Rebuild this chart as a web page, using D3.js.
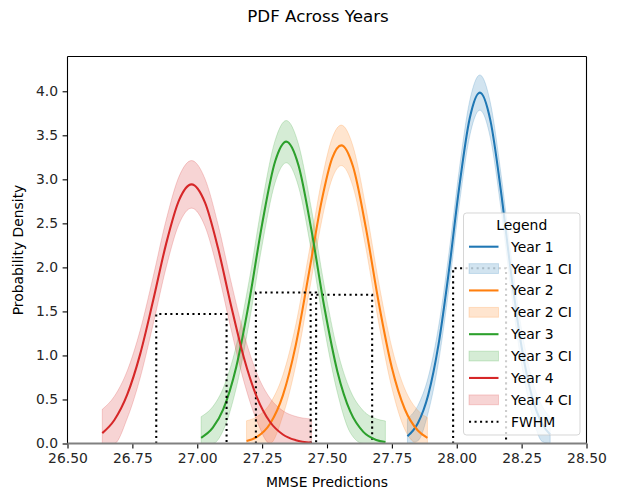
<!DOCTYPE html>
<html>
<head>
<meta charset="utf-8">
<script src="https://cdn.jsdelivr.net/npm/d3@7"></script>
<style>
  html, body { margin: 0; padding: 0; background: #fff; }
  svg { display: block; font-family: "DejaVu Sans", sans-serif; }
</style>
</head>
<body>
<svg id="chart" width="619" height="491"></svg>
<script>
// ---------- data ----------
const seriesNames = ["Year 1", "Year 2", "Year 3", "Year 4"];
const seriesColors = ["#1f77b4", "#ff7f0e", "#2ca02c", "#d62728"];

// Year 1
const year1X  = [27.81, 27.85, 27.89, 27.93, 27.97, 28.01, 28.05, 28.089, 28.13, 28.17, 28.21, 28.25, 28.29, 28.33, 28.36];
const year1Y  = [0.082, 0.230, 0.552, 1.129, 1.965, 2.919, 3.693, 3.985, 3.664, 2.873, 1.919, 1.094, 0.531, 0.220, 0.102];
const year1Hi = [0.282, 0.430, 0.752, 1.329, 2.165, 3.119, 3.893, 4.185, 3.864, 3.073, 2.119, 1.294, 0.731, 0.420, 0.302];
const year1Lo = [0.000, 0.030, 0.352, 0.929, 1.765, 2.719, 3.493, 3.785, 3.464, 2.673, 1.719, 0.894, 0.331, 0.020, 0.000];

// Year 2
const year2X  = [27.19, 27.23, 27.28, 27.33, 27.38, 27.43, 27.48, 27.52, 27.555, 27.60, 27.65, 27.70, 27.75, 27.80, 27.85, 27.887];
const year2Y  = [0.028, 0.075, 0.222, 0.547, 1.123, 1.929, 2.764, 3.240, 3.386, 3.148, 2.446, 1.587, 0.860, 0.389, 0.147, 0.064];
const year2Hi = [0.258, 0.305, 0.452, 0.777, 1.353, 2.159, 2.994, 3.470, 3.616, 3.378, 2.676, 1.817, 1.090, 0.619, 0.377, 0.294];
const year2Lo = [0.000, 0.000, 0.000, 0.317, 0.893, 1.699, 2.534, 3.010, 3.156, 2.918, 2.216, 1.357, 0.630, 0.159, 0.000, 0.000];

// Year 3
const year3X  = [27.015, 27.06, 27.10, 27.15, 27.20, 27.25, 27.30, 27.343, 27.39, 27.44, 27.49, 27.54, 27.59, 27.64, 27.69, 27.725];
const year3Y  = [0.065, 0.179, 0.388, 0.867, 1.611, 2.492, 3.202, 3.428, 3.160, 2.423, 1.544, 0.819, 0.361, 0.132, 0.040, 0.016];
const year3Hi = [0.305, 0.419, 0.628, 1.107, 1.851, 2.732, 3.442, 3.668, 3.400, 2.663, 1.784, 1.059, 0.601, 0.372, 0.280, 0.256];
const year3Lo = [0.000, 0.000, 0.148, 0.627, 1.371, 2.252, 2.962, 3.188, 2.920, 2.183, 1.304, 0.579, 0.121, 0.000, 0.000, 0.000];

// Year 4
const year4X  = [26.634, 26.68, 26.73, 26.78, 26.83, 26.88, 26.93, 26.978, 27.03, 27.08, 27.13, 27.18, 27.23, 27.28, 27.33, 27.38, 27.44];
const year4Y  = [0.118, 0.264, 0.554, 1.015, 1.623, 2.267, 2.764, 2.943, 2.735, 2.219, 1.571, 0.972, 0.525, 0.247, 0.102, 0.037, 0.009];
const year4Hi = [0.388, 0.534, 0.824, 1.285, 1.893, 2.537, 3.034, 3.213, 3.005, 2.489, 1.841, 1.242, 0.795, 0.517, 0.372, 0.307, 0.279];
const year4Lo = [0.000, 0.000, 0.284, 0.745, 1.353, 1.997, 2.494, 2.673, 2.465, 1.949, 1.301, 0.702, 0.255, 0.000, 0.000, 0.000, 0.000];

// FWHM boxes (one per year, same order)
const fwhmLeft   = [27.986, 27.437, 27.226, 26.842];
const fwhmRight  = [28.190, 27.674, 27.458, 27.113];
const fwhmHeight = [1.990, 1.690, 1.714, 1.470];

const xTicks = [26.5, 26.75, 27.0, 27.25, 27.5, 27.75, 28.0, 28.25, 28.5];
const yTicks = [0, 0.5, 1.0, 1.5, 2.0, 2.5, 3.0, 3.5, 4.0];
const xDomain = [26.5, 28.5];
const yDomain = [0, 4.395];

const titleText = "PDF Across Years";
const xLabelText = "MMSE Predictions";
const yLabelText = "Probability Density";
const legendTitle = "Legend";

// ---------- build ----------
const seriesX  = [year1X, year2X, year3X, year4X];
const seriesY  = [year1Y, year2Y, year3Y, year4Y];
const seriesHi = [year1Hi, year2Hi, year3Hi, year4Hi];
const seriesLo = [year1Lo, year2Lo, year3Lo, year4Lo];

const L = 67.5, R = 586.5, T = 56.5, B = 443.5;
const svg = d3.select("#chart");
const x = d3.scaleLinear().domain(xDomain).range([L, R]);
const y = d3.scaleLinear().domain(yDomain).range([B, T]);

svg.append("defs").append("clipPath").attr("id", "plotclip")
  .append("rect").attr("x", L).attr("y", T).attr("width", R - L).attr("height", B - T);

const plot = svg.append("g").attr("clip-path", "url(#plotclip)");
const LW = 2.08;
const DOT = "2.08,3.44";

// bands (below lines)
seriesNames.forEach((name, i) => {
  const pts = seriesX[i].map((xv, j) => ({ x: xv, lo: seriesLo[i][j], hi: seriesHi[i][j] }));
  const area = d3.area().x(d => x(d.x)).y0(d => y(d.lo)).y1(d => y(d.hi)).curve(d3.curveMonotoneX);
  plot.append("path").attr("d", area(pts))
    .attr("fill", seriesColors[i]).attr("fill-opacity", 0.2)
    .attr("stroke", seriesColors[i]).attr("stroke-opacity", 0.2).attr("stroke-width", 1);
});

// lines and FWHM boxes
seriesNames.forEach((name, i) => {
  const pts = seriesX[i].map((xv, j) => ({ x: xv, y: seriesY[i][j] }));
  const line = d3.line().x(d => x(d.x)).y(d => y(d.y)).curve(d3.curveMonotoneX);
  plot.append("path").attr("d", line(pts)).attr("fill", "none")
    .attr("stroke", seriesColors[i]).attr("stroke-width", LW).attr("stroke-linejoin", "round");
  const box = [[fwhmLeft[i], 0], [fwhmLeft[i], fwhmHeight[i]], [fwhmRight[i], fwhmHeight[i]], [fwhmRight[i], 0]];
  plot.append("path").attr("d", d3.line().x(d => x(d[0])).y(d => y(d[1]))(box))
    .attr("fill", "none").attr("stroke", "#000").attr("stroke-width", LW)
    .attr("stroke-dasharray", DOT);
});

// axes
const xAxis = d3.axisBottom(x).tickValues(xTicks).tickFormat(d3.format(".2f")).tickSize(4.9).tickPadding(4.6);
const yAxis = d3.axisLeft(y).tickValues(yTicks).tickFormat(d3.format(".1f")).tickSize(4.9).tickPadding(4.6);
const gx = svg.append("g").attr("transform", `translate(0,${B})`).call(xAxis);
const gy = svg.append("g").attr("transform", `translate(${L},0)`).call(yAxis);
[gx, gy].forEach(g => {
  g.select(".domain").remove();
  g.selectAll(".tick line").attr("stroke", "#000").attr("stroke-width", 1.1);
  g.selectAll(".tick text").attr("fill", "#262626").attr("font-size", "13.9px")
    .attr("font-family", "DejaVu Sans, sans-serif");
});

// spines
const sp = svg.append("g").attr("fill", "none").attr("stroke", "#000").attr("stroke-width", 1.1);
sp.append("line").attr("x1", L).attr("x2", L).attr("y1", T).attr("y2", B);
sp.append("line").attr("x1", R).attr("x2", R).attr("y1", T).attr("y2", B);
sp.append("line").attr("x1", L).attr("x2", R).attr("y1", T).attr("y2", T);
svg.append("line").attr("x1", L).attr("x2", R).attr("y1", B).attr("y2", B)
  .attr("stroke", "#808080").attr("stroke-width", 2.2);

// titles
svg.append("text").attr("x", 318).attr("y", 21.7).attr("text-anchor", "middle")
  .attr("font-size", "16.7px").attr("fill", "#000").text(titleText);
svg.append("text").attr("x", (L + R) / 2).attr("y", 487).attr("text-anchor", "middle")
  .attr("font-size", "13.9px").attr("fill", "#000").text(xLabelText);
svg.append("text").attr("transform", `translate(22.5,${(T + B) / 2}) rotate(-90)`)
  .attr("text-anchor", "middle").attr("font-size", "13.9px").attr("fill", "#000").text(yLabelText);

// legend
const lg = svg.append("g");
lg.append("rect").attr("x", 463.5).attr("y", 213).attr("width", 116.5).attr("height", 222)
  .attr("rx", 3).attr("fill", "#fff").attr("fill-opacity", 0.8)
  .attr("stroke", "#cccccc").attr("stroke-opacity", 0.8).attr("stroke-width", 1);
lg.append("text").attr("x", 521.7).attr("y", 229.5).attr("text-anchor", "middle")
  .attr("font-size", "13.9px").attr("fill", "#000").text(legendTitle);
const entries = [];
seriesNames.forEach((n, i) => {
  entries.push({ label: n, type: "line", color: seriesColors[i] });
  entries.push({ label: n + " CI", type: "patch", color: seriesColors[i] });
});
entries.push({ label: "FWHM", type: "dot", color: "#000" });
entries.forEach((e, k) => {
  const cy = 246.7 + k * 21.875;
  if (e.type === "line") {
    lg.append("line").attr("x1", 469).attr("x2", 498.5).attr("y1", cy).attr("y2", cy)
      .attr("stroke", e.color).attr("stroke-width", LW);
  } else if (e.type === "patch") {
    lg.append("rect").attr("x", 469).attr("y", cy - 4.9).attr("width", 29.5).attr("height", 9.8)
      .attr("fill", e.color).attr("fill-opacity", 0.2)
      .attr("stroke", e.color).attr("stroke-opacity", 0.2).attr("stroke-width", 1);
  } else {
    lg.append("line").attr("x1", 469).attr("x2", 498.5).attr("y1", cy).attr("y2", cy)
      .attr("stroke", "#000").attr("stroke-width", LW).attr("stroke-dasharray", DOT);
  }
  lg.append("text").attr("x", 511).attr("y", cy + 5).attr("font-size", "13.9px")
    .attr("fill", "#000").text(e.label);
});
</script>
</body>
</html>
